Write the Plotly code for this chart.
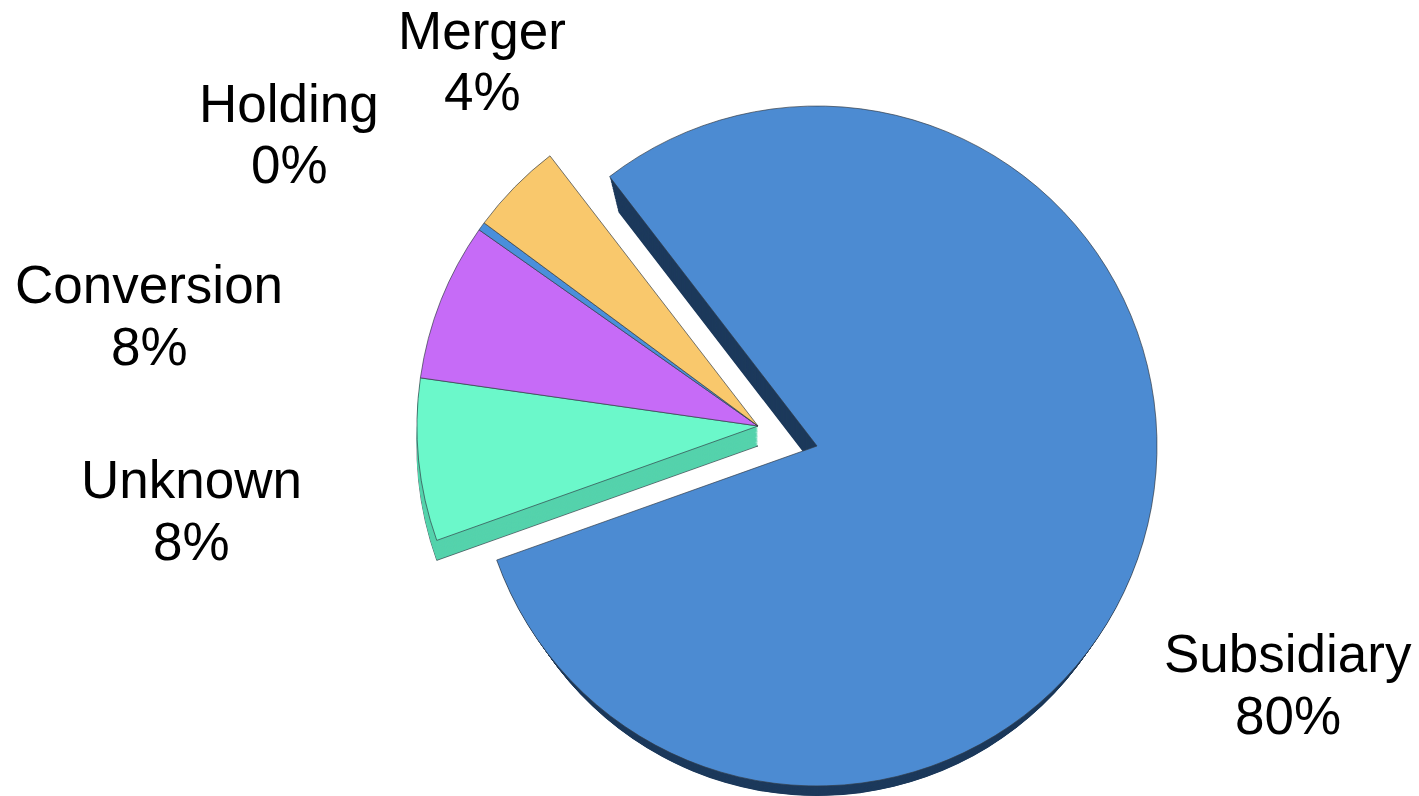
import plotly.graph_objects as go

categories = ["Subsidiary", "Unknown", "Conversion", "Holding", "Merger"]
values = [80.0, 7.7, 7.5, 0.4, 4.4]
pct_labels = ["80%", "8%", "8%", "0%", "4%"]
colors = ["#4C8BD2", "#6BF8CA", "#C66BF7", "#4A8FDB", "#F9C86C"]
wall_colors = ["#1D3A5C", "#55D3AC", "#55D3AC", "#55D3AC", "#55D3AC"]

W, H = 1419, 796
CLEAR = "rgba(0,0,0,0)"
EDGE = "rgba(50,60,70,0.85)"
ROTATION = 322.4
DEPTH_STEPS = 24


def domain(cx, cy, r):
    return dict(x=[(cx - r) / W, (cx + r) / W], y=[1 - (cy + r) / H, 1 - (cy - r) / H])


def layer(show, palette, cx, cy, r, edge=True):
    slice_colors = [c if i in show else CLEAR for i, c in enumerate(palette)]
    line_colors = [EDGE if (i in show and edge) else CLEAR for i in range(len(categories))]
    return go.Pie(
        labels=categories,
        values=values,
        sort=False,
        direction="clockwise",
        rotation=ROTATION,
        textinfo="none",
        hoverinfo="skip",
        showlegend=False,
        domain=domain(cx, cy, r),
        marker=dict(colors=slice_colors, line=dict(color=line_colors, width=0.8 if edge else 0)),
    )


fig = go.Figure()

# Main slice: solid side wall built from stacked copies, then the top face.
for k in range(DEPTH_STEPS, 0, -1):
    t = k / DEPTH_STEPS
    fig.add_trace(layer({0}, wall_colors, 817, 446 + 24 * t, 340 - 14 * t, edge=False))
fig.add_trace(layer({0}, colors, 817, 446, 340))

# Exploded group: side wall of Unknown, then the top faces.
for k in range(DEPTH_STEPS, 0, -1):
    t = k / DEPTH_STEPS
    fig.add_trace(layer({1}, wall_colors, 758, 426 + 20 * t, 341, edge=(k == DEPTH_STEPS)))
fig.add_trace(layer({1, 2, 3, 4}, colors, 758, 426, 341))

label_pos = {
    "Subsidiary": (1288, 653, 715),
    "Unknown": (191, 480, 541),
    "Conversion": (149, 284, 346),
    "Holding": (289, 103, 164),
    "Merger": (482, 31, 92),
}
for name, pct in zip(categories, pct_labels):
    x, y1, y2 = label_pos[name]
    for text, y in ((name, y1), (pct, y2)):
        fig.add_annotation(
            x=x / W, y=1 - y / H, xref="paper", yref="paper",
            text=text, showarrow=False, xanchor="center", yanchor="middle",
            font=dict(family="Liberation Sans", size=53, color="#000000"),
        )

fig.update_layout(
    width=W, height=H, autosize=False,
    margin=dict(l=0, r=0, t=0, b=0),
    paper_bgcolor="#FFFFFF", plot_bgcolor="#FFFFFF",
)
fig.write_html(
    "out.html",
    config={"displayModeBar": False},
    post_script="document.body.style.margin='0';document.body.style.overflow='hidden';",
)
